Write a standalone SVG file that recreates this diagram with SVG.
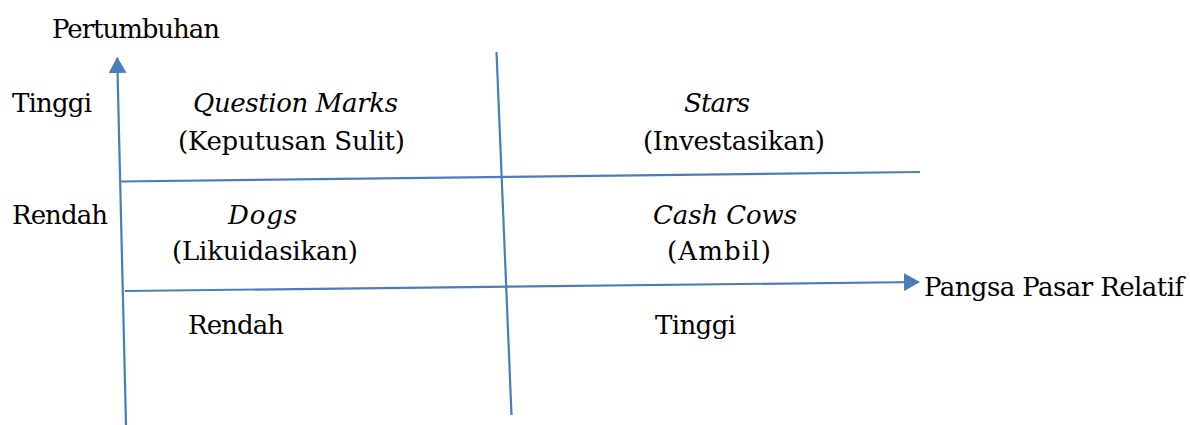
<svg xmlns="http://www.w3.org/2000/svg" width="1190" height="425" viewBox="0 0 1190 425">
<defs>
<style>
.t{font-family:'DejaVu Serif','Liberation Serif',serif;font-size:26px;fill:#000}
.i{font-style:italic}
.ln{stroke:#4A7EBB;stroke-width:2.2;fill:none}
</style>
<marker id="ah2" viewBox="0 0 16 18" refX="15" refY="9" markerWidth="16" markerHeight="18" orient="auto" markerUnits="userSpaceOnUse">
<path d="M0,0 L16,9 L0,18 Z" fill="#4A7EBB"/>
</marker>
</defs>
<rect width="1190" height="425" fill="#fff"/>
<g id="connectors">
<line class="ln" x1="126" y1="425" x2="117.2" y2="58" marker-end="url(#ah2)"/>
<line class="ln" x1="125" y1="291" x2="919" y2="282" marker-end="url(#ah2)"/>
<line class="ln" x1="120" y1="181.5" x2="920" y2="172"/>
<line class="ln" x1="496.5" y1="52" x2="511.5" y2="415"/>
</g>
<g id="axis-y-label"><text class="t" x="52" y="38" textLength="168">Pertumbuhan</text></g>
<g id="axis-x-label"><text class="t" x="924" y="296" textLength="260">Pangsa Pasar Relatif</text></g>
<g id="y-high"><text class="t" x="12" y="112" textLength="80">Tinggi</text></g>
<g id="y-low"><text class="t" x="12" y="224" textLength="96">Rendah</text></g>
<g id="x-low"><text class="t" x="188" y="334" textLength="96">Rendah</text></g>
<g id="x-high"><text class="t" x="655" y="334" textLength="81">Tinggi</text></g>
<g id="question-marks">
<text class="t i" x="193" y="112" textLength="205">Question Marks</text>
<text class="t" x="178" y="150" textLength="227">(Keputusan Sulit)</text>
</g>
<g id="stars">
<text class="t i" x="684" y="112" textLength="66">Stars</text>
<text class="t" x="643" y="150" textLength="182">(Investasikan)</text>
</g>
<g id="dogs">
<text class="t i" x="228" y="224" textLength="69">Dogs</text>
<text class="t" x="172" y="260" textLength="186">(Likuidasikan)</text>
</g>
<g id="cash-cows">
<text class="t i" x="653" y="224" textLength="144">Cash Cows</text>
<text class="t" x="667" y="260" textLength="104">(Ambil)</text>
</g>
</svg>
